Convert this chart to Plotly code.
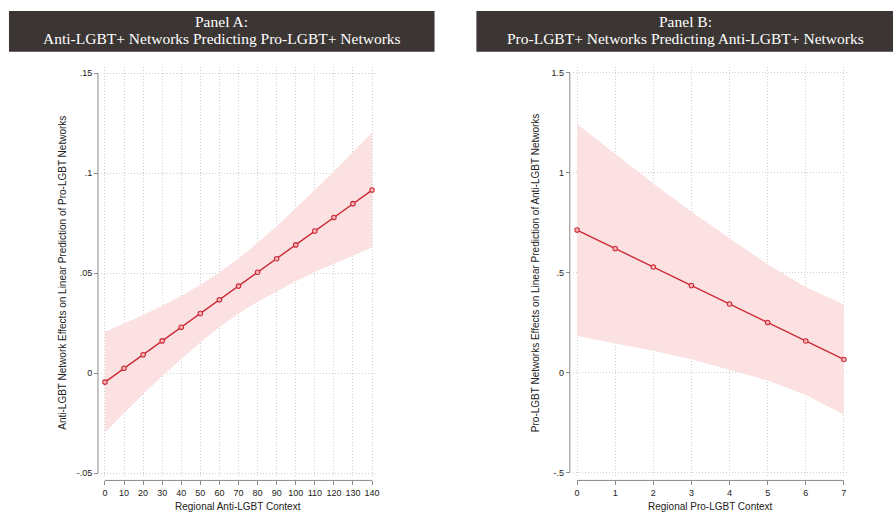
import plotly.graph_objects as go

W, H = 896, 515

# ---------------- data ----------------
a_x = [0, 10, 20, 30, 40, 50, 60, 70, 80, 90, 100, 110, 120, 130, 140]
a_est = [-0.0045, 0.0024, 0.0092, 0.0161, 0.0229, 0.0298, 0.0367, 0.0435,
         0.0504, 0.0572, 0.0641, 0.0710, 0.0778, 0.0847, 0.0915]
a_hi = [0.0205, 0.0247, 0.0290, 0.0337, 0.0386, 0.0442, 0.0504, 0.0573,
        0.0651, 0.0734, 0.0823, 0.0915, 0.1009, 0.1105, 0.1202]
a_lo = [-0.0295, -0.0199, -0.0106, -0.0015, 0.0072, 0.0154, 0.0230, 0.0297,
        0.0357, 0.0410, 0.0459, 0.0505, 0.0547, 0.0589, 0.0628]
a_yticks = [-0.05, 0, 0.05, 0.1, 0.15]
a_ylabels = ["-.05", "0", ".05", ".1", ".15"]

b_x = [0, 1, 2, 3, 4, 5, 6, 7]
b_est = [0.712, 0.620, 0.527, 0.435, 0.342, 0.250, 0.157, 0.065]
b_hi = [1.242, 1.095, 0.945, 0.804, 0.670, 0.540, 0.427, 0.340]
b_lo = [0.182, 0.145, 0.109, 0.066, 0.014, -0.040, -0.113, -0.210]
b_yticks = [-0.5, 0, 0.5, 1, 1.5]
b_ylabels = ["-.5", "0", ".5", "1", "1.5"]

title_a = ["Panel A:", "Anti-LGBT+ Networks Predicting Pro-LGBT+ Networks"]
title_b = ["Panel B:", "Pro-LGBT+ Networks Predicting Anti-LGBT+ Networks"]
xt_a = "Regional Anti-LGBT Context"
xt_b = "Regional Pro-LGBT Context"
yt_a = "Anti-LGBT Network Effects on Linear Prediction of Pro-LGBT Networks"
yt_b = "Pro-LGBT Networks Effects on Linear Prediction of Anti-LGBT Networks"

# ---------------- style ----------------
RED = "#cc2a36"
BAND = "#fbe1e2"
GRID = "#cfcfcf"
AX = "#8a8a8a"
TXT = "#222222"
SANS = "Liberation Sans, Arial, sans-serif"
SERIF = "Liberation Serif, Times New Roman, serif"

def px(x):
    return x / W

def py(y):
    return 1 - y / H

fig = go.Figure()

def add_panel(xs, est, lo, hi, xa, ya):
    fig.add_trace(go.Scatter(x=xs, y=lo, mode="lines", line=dict(width=0, color=BAND),
                             xaxis=xa, yaxis=ya, showlegend=False, hoverinfo="skip"))
    fig.add_trace(go.Scatter(x=xs, y=hi, mode="lines", line=dict(width=0, color=BAND),
                             fill="tonexty", fillcolor=BAND,
                             xaxis=xa, yaxis=ya, showlegend=False, hoverinfo="skip"))
    fig.add_trace(go.Scatter(x=xs, y=est, mode="lines+markers",
                             line=dict(width=1.4, color=RED),
                             marker=dict(size=4.5, color="#f3b5b9",
                                         line=dict(width=1.1, color=RED)),
                             cliponaxis=False,
                             xaxis=xa, yaxis=ya, showlegend=False))

add_panel(a_x, a_est, a_lo, a_hi, "x", "y")
add_panel(b_x, b_est, b_lo, b_hi, "x2", "y2")

ydom = [py(478), py(67)]
tickfont = dict(family=SANS, size=9, color=TXT)
GDASH = "1px,2px"

def xaxis_cfg(dom, rng, tickvals, axis_y):
    return dict(domain=dom, range=rng, anchor="free", position=py(axis_y),
                tickmode="array", tickvals=tickvals, ticktext=[str(v) for v in tickvals],
                ticks="outside", ticklen=4, tickwidth=1, tickcolor=AX, tickangle=0,
                showline=False, zeroline=False,
                showgrid=True, gridcolor=GRID, griddash=GDASH, gridwidth=1,
                tickfont=tickfont, fixedrange=True)

def yaxis_cfg(rng, tickvals, ticktext, axis_x):
    return dict(domain=ydom, range=rng, anchor="free", position=px(axis_x),
                tickmode="array", tickvals=tickvals, ticktext=ticktext,
                ticks="outside", ticklen=4, tickwidth=1, tickcolor=AX, tickangle=0,
                showline=False, zeroline=False,
                showgrid=True, gridcolor=GRID, griddash=GDASH, gridwidth=1,
                tickfont=tickfont, fixedrange=True)

# Panel A ranges: ticks 0 -> px105.3, 140 -> px373.3 ; region 101..378
ax_per = (373.3 - 105.3) / 140
a_xr = [0 - (105.3 - 101) / ax_per, 140 + (378 - 373.3) / ax_per]
ay_per = (475 - 73.3) / 0.2
a_yr = [-0.05 - (478 - 475) / ay_per, 0.15 + (73.3 - 67) / ay_per]
# Panel B: ticks 0 -> px579, 7 -> px846.7 ; region 575..851
bx_per = (846.7 - 579) / 7
b_xr = [0 - (579 - 575) / bx_per, 7 + (851 - 846.7) / bx_per]
by_per = (474.3 - 72.7) / 2
b_yr = [-0.5 - (478 - 474.3) / by_per, 1.5 + (72.7 - 67) / by_per]

fig.update_layout(
    width=W, height=H, margin=dict(l=0, r=0, t=0, b=0),
    paper_bgcolor="white", plot_bgcolor="white",
    xaxis=xaxis_cfg([px(101), px(378)], a_xr, a_x, 482.3),
    yaxis=yaxis_cfg(a_yr, a_yticks, a_ylabels, 98.3),
    xaxis2=xaxis_cfg([px(575), px(851)], b_xr, b_x, 482.3),
    yaxis2=yaxis_cfg(b_yr, b_yticks, b_ylabels, 571.7),
)

shapes = []
# axis lines spanning tick range (Stata style)
shapes.append(dict(type="line", xref="x", yref="paper", x0=a_x[0], x1=a_x[-1],
                   y0=py(482.3), y1=py(482.3), line=dict(color=AX, width=1)))
shapes.append(dict(type="line", xref="paper", yref="y", x0=px(98.3), x1=px(98.3),
                   y0=a_yticks[0], y1=a_yticks[-1], line=dict(color=AX, width=1)))
shapes.append(dict(type="line", xref="x2", yref="paper", x0=b_x[0], x1=b_x[-1],
                   y0=py(482.3), y1=py(482.3), line=dict(color=AX, width=1)))
shapes.append(dict(type="line", xref="paper", yref="y2", x0=px(571.7), x1=px(571.7),
                   y0=b_yticks[0], y1=b_yticks[-1], line=dict(color=AX, width=1)))
# title bars
shapes.append(dict(type="rect", xref="paper", yref="paper", x0=px(9), x1=px(436),
                   y0=py(52), y1=py(11), fillcolor="#3b3634", line=dict(width=0), layer="below"))
shapes.append(dict(type="rect", xref="paper", yref="paper", x0=px(478), x1=px(896),
                   y0=py(52), y1=py(11), fillcolor="#3b3634", line=dict(width=0), layer="below"))
fig.update_layout(shapes=shapes)

ann = []
tfont = dict(family=SERIF, size=15.5, color="white")
for txt, cx in ((title_a, 222.5), (title_b, 688)):
    ann.append(dict(text=txt[0], xref="paper", yref="paper", x=px(cx), y=py(22),
                    showarrow=False, font=tfont, xanchor="center", yanchor="middle"))
    ann.append(dict(text=txt[1], xref="paper", yref="paper", x=px(cx), y=py(38.5),
                    showarrow=False, font=tfont, xanchor="center", yanchor="middle"))
axfont = dict(family=SANS, size=10, color=TXT)
ann.append(dict(text=xt_a, xref="paper", yref="paper", x=px(239.3), y=py(508.5),
                showarrow=False, font=axfont, xanchor="center", yanchor="middle"))
ann.append(dict(text=xt_b, xref="paper", yref="paper", x=px(713), y=py(508.5),
                showarrow=False, font=axfont, xanchor="center", yanchor="middle"))
ann.append(dict(text=yt_a, xref="paper", yref="paper", x=px(63), y=py(274),
                showarrow=False, font=axfont, textangle=-90, xanchor="center", yanchor="middle"))
ann.append(dict(text=yt_b, xref="paper", yref="paper", x=px(538), y=py(274),
                showarrow=False, font=axfont, textangle=-90, xanchor="center", yanchor="middle"))
fig.update_layout(annotations=ann)

fig.write_html("out.html",
               config={"displayModeBar": False},
               post_script="document.body.style.margin='0';document.body.style.padding='0';")
